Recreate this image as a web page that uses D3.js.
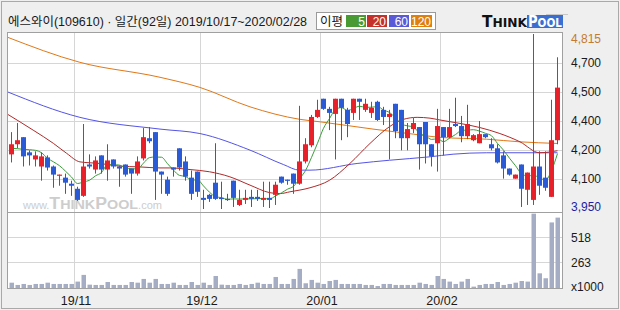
<!DOCTYPE html>
<html><head><meta charset="utf-8">
<script src="https://cdn.jsdelivr.net/npm/d3@7/dist/d3.min.js"></script>
<style>body{margin:0;background:#efefef}svg{display:block}</style>
</head><body><svg id="c" width="620" height="310"></svg>
<script>
// ---------- DATA ----------
const opens  = [4220,4270,4305,4230,4195,4160,4205,4160,4115,4105, 4075,4050,4015,4170,4145,4215,4145,4195,4160,4170,
                4150,4125,4200,4300,4330,4135,4095,4155,4250,4185, 4105,4135,4005,4020,4080,4005,4000,4090,3970,3995,
                4010,4010,3995,4005,4020,4110,4095,4125,4075,4185, 4265,4405,4495,4445,4420,4495,4440,4425,4495,4440,
                4425,4480,4440,4405,4470,4440,4300,4345,4355,4380, 4270,4275,4355,4305,4370,4360,4310,4290,4275,4320,
                4270,4250,4215,4150,4100,4170,4045,3995,4160,4105, 4010,4290];
const highs  = [4330,4375,4305,4240,4235,4230,4215,4165,4120,4125, 4090,4060,4370,4220,4210,4215,4270,4195,4165,4170,
                4150,4210,4350,4355,4330,4135,4110,4155,4250,4210, 4140,4135,4045,4025,4275,4085,4025,4090,4045,4045,
                4045,4045,4085,4085,4085,4110,4095,4125,4460,4300, 4415,4490,4495,4455,4495,4495,4450,4495,4495,4495,
                4480,4485,4455,4440,4470,4440,4375,4400,4355,4380, 4270,4445,4355,4445,4500,4410,4465,4320,4385,4320,
                4300,4270,4235,4150,4120,4170,4130,4815,4235,4235, 4490,4700];
const lows   = [4180,4250,4160,4165,4160,4090,4140,4055,4065,4025, 4015,3990,4010,4150,4125,4125,4090,4150,4060,4110,
                4025,4115,4190,4275,3995,4025,4015,4110,4140,4090, 3995,4010,3950,3985,3995,3950,3990,3960,3965,3975,
                3960,3990,3960,3955,3970,4075,4070,4025,4070,4175, 4255,4400,4440,4340,4195,4290,4305,4390,4390,4430,
                4400,4385,4365,4195,4300,4240,4240,4325,4145,4175, 4160,4135,4215,4300,4355,4280,4295,4285,4275,4300,
                4240,4175,4100,4115,4100,3960,3970,3970,4020,4040, 4010,4270];
const closes = [4270,4290,4210,4215,4215,4210,4155,4120,4120,4080, 4065,3995,4160,4160,4190,4145,4190,4160,4150,4120,
                4125,4185,4305,4285,4135,4120,4025,4145,4155,4110, 4025,4035,3995,4000,4000,4000,3995,4005,3995,4005,
                4000,4000,4005,3995,4070,4080,4090,4075,4185,4270, 4405,4440,4445,4425,4495,4450,4370,4495,4480,4470,
                4450,4390,4405,4420,4335,4300,4345,4375,4270,4270, 4210,4360,4305,4355,4360,4310,4370,4315,4320,4305,
                4250,4180,4150,4120,4120,4050,4130,4160,4065,4055, 4290,4550];
const volumes = [54,31,41,31,41,41,54,41,41,41, 41,65,133,34,31,31,61,31,31,31,
                 61,54,92,54,92,41,41,54,31,31, 61,31,54,31,122,34,31,31,41,31,
                 41,54,41,41,112,41,41,92,194,48, 82,54,41,71,82,41,41,41,41,31,
                 31,20,41,41,31,31,31,31,54,41, 31,122,92,65,41,65,92,14,31,41,
                 41,61,31,41,54,71,65,755,149,99, 666,715];
const ma5 = [4250,4248,4245,4243,4240,4228,4201,4183,4164,4137, 4108,4076,4084,4092,4114,4130,4169,4169,4167,4153,
             4149,4148,4177,4204,4207,4206,4174,4142,4116,4111, 4092,4094,4064,4033,4011,4006,3998,4000,3999,4000,
             4000,4001,4002,4000,4014,4030,4048,4062,4100,4140, 4205,4275,4349,4397,4442,4451,4437,4447,4458,4453,
             4453,4457,4439,4427,4400,4370,4361,4355,4325,4312, 4294,4297,4283,4300,4318,4338,4340,4342,4335,4324,
             4312,4274,4241,4201,4164,4124,4114,4116,4105,4092, 4140,4224];
const ma20Idx = [-0.75,3.6,7,9.2,11.4,14.75,18,21.4,24.75,26.4,29.75,33,36.4,39.75,43,44.75,46.4,49.75,53,56.4,59.75,63,65.3,67.6,69.75,71.4,74.75,78,81.4,84.75,88,91];
const ma20Val = [4420,4340,4274,4225,4183,4175,4162,4158,4153,4153,4145,4134,4109,4068,4031,4026,4035,4055,4092,4175,4274,4357,4393,4403,4399,4390,4373,4353,4323,4282,4228,4238];
const ma60Idx = [-0.75,11.4,24.75,31.4,39.75,45.3,48,49.75,57.6,63,69.75,73.6,79.2,91];
const ma60Val = [4530,4403,4345,4323,4241,4170,4142,4142,4175,4191,4208,4221,4228,4228];
const ma120Idx = [-0.75,11.4,24.75,31.4,39.75,48.1,51.4,60.25,67,71.4,79.2,84.75,91];
const ma120Val = [4800,4675,4601,4551,4455,4393,4381,4345,4320,4304,4295,4282,4274];

const priceMax = 4815, priceMin = 3950;
const gridValues = [4672,4528,4385,4242,4098];
const gridLabels = ["4,700","4,500","4,400","4,200","4,100"];
const volTicks = [518,263];
const volTickLabels = ["518","263"];
const monthIdx = [11,32,52,72];
const monthLabels = ["19/11","19/12","20/01","20/02"];
const titleText = "에스와이(109610) · 일간(92일) 2019/10/17~2020/02/28";
const legendNames = ["5","20","60","120"];

// ---------- LAYOUT ----------
const svg = d3.select("#c");
const L = 7, R = 562, PT = 32, PB = 212, VB = 288;
const cRed = "#e8202a", cBlue = "#2a5ad6";
const maCol = {g:"#3c9c3c", r:"#b02a2a", b:"#5454e6", o:"#e07818"};
const legCol = ["#4a9a34","#c6302a","#5a5ad8","#e0800c"];
const numFont = "'Liberation Sans', Arial, sans-serif";

const x = d3.scaleLinear().domain([0,91]).range([11.5,557.5]);
const y = d3.scaleLinear().domain([priceMin,priceMax]).range([209,34]);
const yv = d3.scaleLinear().domain([0,518]).range([VB,237]);

svg.append("rect").attr("width",620).attr("height",310).attr("fill","#efefef");
svg.append("rect").attr("x",1.5).attr("y",1.5).attr("width",617).attr("height",307)
  .attr("fill","none").attr("stroke","#a9a9a9");
svg.append("rect").attr("x",L+0.5).attr("y",PT+0.5).attr("width",R-L).attr("height",VB-PT)
  .attr("fill","#fff");

const grid = svg.append("g").attr("stroke","#d6d6d6").attr("stroke-width",1);
gridValues.forEach(v=>{const yy=Math.round(y(v))+0.5;
  grid.append("line").attr("x1",L).attr("x2",R).attr("y1",yy).attr("y2",yy);});
volTicks.forEach(v=>{const yy=Math.round(yv(v))+0.5;
  grid.append("line").attr("x1",L).attr("x2",R).attr("y1",yy).attr("y2",yy);});
monthIdx.forEach(i=>{const xx=x(i)-3;
  grid.append("line").attr("x1",xx).attr("x2",xx).attr("y1",PT).attr("y2",VB);});

// watermark
const wm = svg.append("text").attr("x",23).attr("y",209).attr("fill","#cdcdcd")
  .attr("font-family","'Liberation Sans', Arial, sans-serif").attr("font-weight","bold");
wm.append("tspan").attr("font-size",10).attr("font-weight","normal").text("www.");
wm.append("tspan").attr("font-size",16).text("T");
wm.append("tspan").attr("font-size",13).text("HINK");
wm.append("tspan").attr("font-size",16).text("P");
wm.append("tspan").attr("font-size",13).text("OOL");
wm.append("tspan").attr("font-size",10).attr("font-weight","normal").text(".com");
wm.attr("textLength",139).attr("lengthAdjust","spacingAndGlyphs");

// clip for price
svg.append("clipPath").attr("id","pc").append("rect").attr("x",L+1).attr("y",PT+1).attr("width",R-L-1).attr("height",PB-PT-1);
const pg = svg.append("g").attr("clip-path","url(#pc)");

function drawMA(idx, vals, col){
  const ln = d3.line().x(d=>x(d[0])).y(d=>y(d[1])).curve(d3.curveMonotoneX);
  pg.append("path").attr("d",ln(idx.map((d,k)=>[d,vals[k]]))).attr("fill","none")
    .attr("stroke",col).attr("stroke-width",1);
}
drawMA(ma120Idx, ma120Val, maCol.o);
drawMA(ma60Idx, ma60Val, maCol.b);
drawMA(ma20Idx, ma20Val, maCol.r);
drawMA(d3.range(ma5.length), ma5, maCol.g);

// candles
const cg = pg.append("g");
closes.forEach((c,i)=>{
  const o=opens[i], up=c>=o, col=up?cRed:cBlue;
  cg.append("line").attr("x1",x(i)).attr("x2",x(i)).attr("y1",y(highs[i])).attr("y2",y(lows[i]))
    .attr("stroke",col).attr("stroke-width",1);
  const t=y(Math.max(o,c)), b=y(Math.min(o,c));
  cg.append("rect").attr("x",x(i)-2.5).attr("width",5).attr("y",t).attr("height",Math.max(1.2,b-t)).attr("fill",col);
});

// volume
svg.append("g").selectAll("rect").data(volumes).join("rect")
  .attr("x",(d,i)=>x(i)-2).attr("width",4.5)
  .attr("y",d=>yv(d)).attr("height",d=>VB-yv(d)).attr("fill","#a5adc5");

// panel borders
svg.append("rect").attr("x",L+0.5).attr("y",PT+0.5).attr("width",R-L).attr("height",VB-PT)
  .attr("fill","none").attr("stroke","#a0a0a0");
svg.append("line").attr("x1",L).attr("x2",R).attr("y1",PB+0.5).attr("y2",PB+0.5).attr("stroke","#a0a0a0");

// right labels
const rl = svg.append("g").attr("font-family",numFont).attr("font-size",12).attr("fill","#1a1a1a");
rl.append("text").attr("x",571).attr("y",Math.max(y(priceMax),39)+4.3).attr("fill","#c47a30").text("4,815");
gridValues.forEach((v,k)=>rl.append("text").attr("x",571).attr("y",y(v)+4.3).text(gridLabels[k]));
rl.append("text").attr("x",571).attr("y",Math.min(y(priceMin),207)+4.3).attr("fill","#1e1ea6").text("3,950");
volTicks.forEach((v,k)=>rl.append("text").attr("x",571).attr("y",yv(v)+4.8).text(volTickLabels[k]));
rl.append("text").attr("x",571).attr("y",VB+2.5).text("x1000");

// month labels
const ml = svg.append("g").attr("font-family",numFont).attr("font-size",12.5).attr("fill","#1a1a1a").attr("text-anchor","middle");
monthIdx.forEach((i,k)=>ml.append("text").attr("x",x(i)-1.5).attr("y",304.5).text(monthLabels[k]));

// title
svg.append("text").attr("x",8).attr("y",25.5).attr("font-family","'Liberation Sans','Noto Sans CJK KR', sans-serif")
  .attr("font-size",12.2).attr("fill","#1a1a1a").attr("textLength",299).attr("lengthAdjust","spacingAndGlyphs").text(titleText);

// legend
const lg = svg.append("g");
lg.append("rect").attr("x",316.5).attr("y",12.5).attr("width",119).attr("height",17).attr("fill","#fff").attr("stroke","#9a9a9a");
lg.append("text").attr("x",320).attr("y",25.5).attr("font-family","'Noto Sans CJK KR', sans-serif").attr("font-size",12.5).attr("fill","#1a1a1a").text("이평");
const bx=[346,367,389,411], bw=[20,20,20,21];
legendNames.forEach((n,k)=>{
  lg.append("rect").attr("x",bx[k]).attr("y",15).attr("width",bw[k]).attr("height",12).attr("fill",legCol[k]);
  lg.append("text").attr("x",bx[k]+bw[k]-1).attr("y",25.5).attr("text-anchor","end").attr("font-family",numFont)
    .attr("font-size",12).attr("fill","#fff").text(n);
});

// logo
const lo = svg.append("g");
lo.append("line").attr("x1",546).attr("x2",568).attr("y1",14.5).attr("y2",14.5).attr("stroke","#c8c8c8");
lo.append("rect").attr("x",527).attr("y",15).attr("width",36).attr("height",13).attr("fill","#3a6fd2");
const t1 = lo.append("text").attr("x",482).attr("y",27).attr("font-family","'DejaVu Sans', sans-serif").attr("font-weight","bold").attr("fill","#111");
t1.append("tspan").attr("font-size",15).text("T"); t1.append("tspan").attr("font-size",12).text("HINK");
t1.attr("textLength",45).attr("lengthAdjust","spacingAndGlyphs");
const t2 = lo.append("text").attr("x",528).attr("y",27).attr("font-family","'DejaVu Sans', sans-serif").attr("font-weight","bold").attr("fill","#fff");
t2.append("tspan").attr("font-size",15).text("P"); t2.append("tspan").attr("font-size",12).text("OOL");
t2.attr("textLength",34).attr("lengthAdjust","spacingAndGlyphs");
</script></body></html>
